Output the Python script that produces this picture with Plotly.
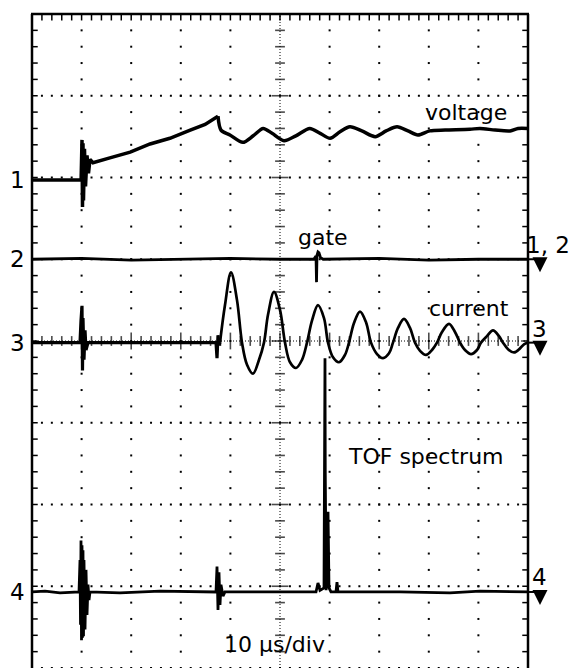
import numpy as np
import plotly.graph_objects as go

# ---------------- data (x in microseconds, y in screen divisions relative to channel ground) -------------
voltage_t = [0, 9.9, 10.08, 10.18, 10.28, 10.38, 10.58, 10.79, 11.09, 11.39, 11.69, 12.3, 15.7, 19.8, 23.8,
             27.8, 31.9, 34.9, 37.5, 38.1, 39.9, 42.5, 44.6, 46.6, 48.4, 50.8, 53.2, 56.0, 58.1, 60.1,
             62.1, 64.1, 66.5, 69.2, 71.4, 73.6, 75.8, 77.8, 80.2, 83.3, 88.3, 90.3, 93.4, 96.4, 98.0, 100]
voltage_v = [0, 0, 0.49, -0.33, 0.45, -0.25, 0.38, -0.08, 0.30, 0.08, 0.25, 0.21, 0.27, 0.34, 0.44,
             0.51, 0.61, 0.68, 0.78, 0.61, 0.55, 0.46, 0.54, 0.63, 0.57, 0.48, 0.54, 0.63, 0.57, 0.51,
             0.59, 0.65, 0.60, 0.53, 0.60, 0.65, 0.60, 0.55, 0.60, 0.61, 0.62, 0.63, 0.61, 0.60, 0.63, 0.63]

gate_t = [0, 10, 20, 30, 40, 50, 56.8, 57.26, 57.36, 57.46, 57.66, 57.86, 58.17, 58.7, 70, 80, 90, 100]
gate_v = [0, 0.01, -0.01, 0, 0.01, 0, 0, 0.04, -0.28, 0.05, 0.09, 0.08, 0.02, 0, 0.01, -0.01, 0, 0]

current_base_t = [0, 9.68, 9.88, 10.08, 10.18, 10.28, 10.48, 10.69, 10.89, 11.29, 20, 30, 37.1, 37.3, 37.5, 37.7, 37.9]
current_base_v = [0, 0, 0.27, 0.45, -0.34, 0.30, -0.21, 0.15, -0.09, 0, 0, 0, 0, -0.19, 0.09, -0.03, 0]

current_wave_t = [37.9, 38.91, 40.12, 41.33, 42.34, 43.35, 44.56, 45.77, 46.77, 47.58,
                  48.79, 50.0, 51.01, 52.02, 53.23, 54.44, 55.44, 56.45, 57.66, 58.87,
                  59.68, 60.69, 61.9, 63.1, 63.91, 64.92, 66.13, 67.34, 68.35, 69.56,
                  70.77, 71.98, 72.78, 73.79, 75.0, 76.21, 77.22, 78.23, 79.44, 80.65,
                  81.65, 82.66, 84.07, 85.28, 86.29, 87.3, 88.51, 89.72, 90.52, 91.73,
                  92.94, 94.15, 94.96, 95.97, 97.18, 98.39, 99.19, 100]
current_wave_v = [0, 0.46, 0.86, 0.52, 0, -0.27, -0.38, -0.21, 0, 0.34,
                  0.62, 0.40, 0, -0.24, -0.31, -0.21, 0, 0.27, 0.46, 0.30,
                  0, -0.18, -0.24, -0.15, 0, 0.24, 0.38, 0.25, 0, -0.14,
                  -0.19, -0.13, 0, 0.18, 0.29, 0.18, 0, -0.10, -0.15, -0.09,
                  0, 0.13, 0.23, 0.13, 0, -0.09, -0.14, -0.09, 0, 0.08,
                  0.15, 0.08, 0, -0.08, -0.12, -0.07, -0.02, 0]

tof_t = [0, 2.62, 5.65, 9.48, 9.68, 9.78, 9.88, 9.98, 10.08, 10.18,
         10.28, 10.38, 10.48, 10.69, 10.89, 11.09, 11.29, 11.49, 11.69, 17.74,
         25.81, 33.87, 37.1, 37.3, 37.5, 37.7, 37.9, 38.1, 38.51, 38.91,
         54.03, 57.26, 57.66, 58.06, 58.87, 59.02, 59.07, 59.12, 59.3, 59.68, 59.88,
         60.28, 61.29, 61.49, 61.69, 74.19, 84.27, 90.32, 100]
tof_v = [0, 0.01, -0.01, 0, 0.39, -0.40, 0.63, -0.59, 0.57, -0.56,
         0.51, -0.54, 0.39, -0.46, 0.27, -0.28, 0.09, -0.10, 0, -0.01,
         0.01, 0, 0, 0.31, -0.22, 0.24, -0.16, 0.09, -0.05, 0,
         0, 0, 0.11, 0.02, 0.05, 1.5, 2.86, 1.5, 0.02, 0.98, 0.05,
         0, 0, 0.12, 0, 0, -0.01, 0.01, 0]

channel_ground = {"1": 1.97, "2": 1.0, "3": -0.02, "4": -3.07}
trace_labels = ["voltage", "gate", "current", "TOF spectrum"]
time_label = "10 \u03bcs/div"

# ---------------- layout geometry ----------------
# the page body has an 8px margin, so the figure is drawn 8px in from the window's corner
BODY = 8
WIN_W, WIN_H = 577, 669
PLOT_L, PLOT_T, PW, PH = 32, 14, 496, 654          # plot rectangle in window pixels
W, H = WIN_W - BODY, WIN_H - BODY
L, T = PLOT_L - BODY, PLOT_T - BODY
R = W - L - PW
B = H - T - PH


def pxx(x):   # window pixel x -> paper
    return (x - PLOT_L) / PW


def pxy(y):   # window pixel y -> paper
    return (PLOT_T + PH - y) / PH


def dpy(d):   # division -> paper
    return (d + 4) / 8


fig = go.Figure()
BLK = "black"

# ---------------- graticule ----------------
gx, gy = [], []
for yk in [-4, -3, -2, -1, 1, 2, 3]:
    for xv in np.arange(2, 99, 2):
        gx.append(xv); gy.append(yk)
for xk in [10, 20, 30, 40, 60, 70, 80, 90]:
    for yv in np.arange(-3.8, 3.9, 0.2):
        gx.append(xk); gy.append(yv)
fig.add_trace(go.Scatter(x=gx, y=gy, mode="markers", hoverinfo="skip",
                         marker=dict(symbol="square", size=2, color=BLK)))

fig.add_trace(go.Scatter(x=[50, 50], y=[-4, 4], mode="lines", hoverinfo="skip",
                         line=dict(color=BLK, width=1, dash="1px,2px")))
fig.add_trace(go.Scatter(x=[0, 100], y=[0, 0], mode="lines", hoverinfo="skip",
                         line=dict(color=BLK, width=1, dash="1px,2px")))
yt = np.round(np.arange(-3.8, 4.0, 0.2), 2)
fig.add_trace(go.Scatter(x=[50] * len(yt), y=yt, mode="markers", hoverinfo="skip",
                         marker=dict(symbol="line-ew", size=[12 if abs(v - round(v)) < 1e-6 else 7 for v in yt],
                                     line=dict(color=BLK, width=1.6))))
xt = np.arange(2, 99, 2)
fig.add_trace(go.Scatter(x=xt, y=[0] * len(xt), mode="markers", hoverinfo="skip",
                         marker=dict(symbol="line-ns", size=[12 if v % 10 == 0 else 7 for v in xt],
                                     line=dict(color=BLK, width=1.6))))
fig.add_trace(go.Scatter(x=[0.45] * len(yt), y=yt, mode="markers", hoverinfo="skip",
                         marker=dict(symbol="line-ew", size=5, line=dict(color=BLK, width=1.5))))
fig.add_trace(go.Scatter(x=[99.55] * len(yt), y=yt, mode="markers", hoverinfo="skip",
                         marker=dict(symbol="line-ew", size=5, line=dict(color=BLK, width=1.5))))
fig.add_trace(go.Scatter(x=xt, y=[3.955] * len(xt), mode="markers", hoverinfo="skip",
                         marker=dict(symbol="line-ns", size=4, line=dict(color=BLK, width=1.5))))

# ---------------- signal traces ----------------
g = channel_ground
pk = voltage_v.index(max(voltage_v))
fig.add_trace(go.Scatter(x=voltage_t[:pk + 1], y=[v + g["1"] for v in voltage_v[:pk + 1]], mode="lines",
                         hoverinfo="skip", line=dict(color=BLK, width=3.5)))
fig.add_trace(go.Scatter(x=voltage_t[pk:], y=[v + g["1"] for v in voltage_v[pk:]], mode="lines",
                         hoverinfo="skip", line=dict(color=BLK, width=3.5, shape="spline", smoothing=0.8)))
fig.add_trace(go.Scatter(x=gate_t, y=[v + g["2"] for v in gate_v], mode="lines", hoverinfo="skip",
                         line=dict(color=BLK, width=2.8)))
fig.add_trace(go.Scatter(x=current_base_t, y=[v + g["3"] for v in current_base_v], mode="lines", hoverinfo="skip",
                         line=dict(color=BLK, width=3.2)))
fig.add_trace(go.Scatter(x=current_wave_t, y=[v + g["3"] for v in current_wave_v], mode="lines", hoverinfo="skip",
                         line=dict(color=BLK, width=2.7, shape="spline", smoothing=1.0)))
fig.add_trace(go.Scatter(x=tof_t, y=[v + g["4"] for v in tof_v], mode="lines", hoverinfo="skip",
                         line=dict(color=BLK, width=2.8)))

# ---------------- frame ----------------
shapes = [
    dict(type="line", xref="paper", yref="paper", x0=0, x1=0, y0=0, y1=1, line=dict(color=BLK, width=2.5)),
    dict(type="line", xref="paper", yref="paper", x0=1, x1=1, y0=0, y1=1, line=dict(color=BLK, width=2.5)),
    dict(type="line", xref="paper", yref="paper", x0=-0.002, x1=1.002, y0=1, y1=1, line=dict(color=BLK, width=2.5)),
]

annotations = []
FONT = "DejaVu Sans"

right_markers = [("1, 2", g["2"], 548), ("3", g["3"], 539), ("4", g["4"], 539)]
label_dy = {"1, 2": -14, "3": -14, "4": -15}
for txt, lvl, xc in right_markers:
    yp = dpy(lvl)
    shapes.append(dict(type="line", xref="paper", yref="paper", x0=1, x1=pxx(540), y0=yp, y1=yp,
                       line=dict(color=BLK, width=2)))
    annotations.append(dict(xref="paper", yref="paper", x=pxx(540), y=yp - 13 / PH, text="",
                            showarrow=True, ax=0, ay=-13, arrowhead=2, arrowsize=1.5, arrowwidth=2,
                            arrowcolor=BLK))
    annotations.append(dict(xref="paper", yref="paper", x=pxx(xc), y=yp - label_dy[txt] / PH, text=txt,
                            showarrow=False, xanchor="center", yanchor="middle",
                            font=dict(family=FONT, size=23, color=BLK)))

for ch in ["1", "2", "3", "4"]:
    annotations.append(dict(xref="paper", yref="paper", x=pxx(17), y=dpy(g[ch]), text=ch,
                            showarrow=False, xanchor="center", yanchor="middle",
                            font=dict(family=FONT, size=23, color=BLK)))

label_pos = [(466, 113), (323, 237), (469, 308), (426, 456)]
for txt, (xc, yc) in zip(trace_labels, label_pos):
    annotations.append(dict(xref="paper", yref="paper", x=pxx(xc), y=pxy(yc), text=txt,
                            showarrow=False, xanchor="center", yanchor="middle",
                            font=dict(family=FONT, size=22, color=BLK)))
annotations.append(dict(xref="paper", yref="paper", x=pxx(274), y=pxy(644), text=time_label,
                        showarrow=False, xanchor="center", yanchor="middle",
                        font=dict(family=FONT, size=22, color=BLK)))

fig.update_layout(
    width=W, height=H, margin=dict(l=L, r=R, t=T, b=B, pad=0),
    paper_bgcolor="white", plot_bgcolor="white", showlegend=False,
    xaxis=dict(range=[0, 100], visible=False, showgrid=False, zeroline=False, fixedrange=True),
    yaxis=dict(range=[-4, 4], visible=False, showgrid=False, zeroline=False, fixedrange=True),
    shapes=shapes, annotations=annotations,
)

fig.write_html("out.html")
